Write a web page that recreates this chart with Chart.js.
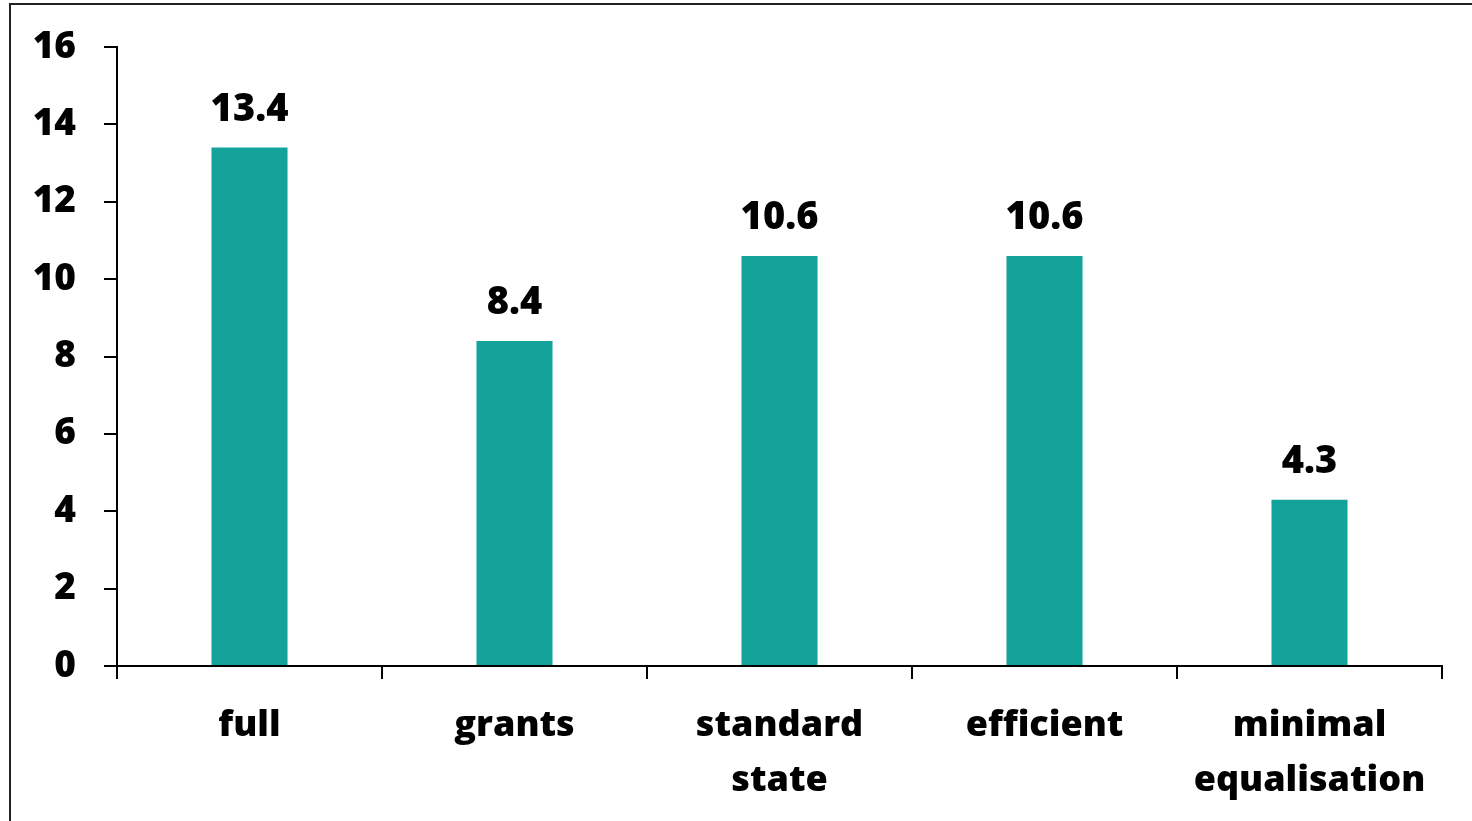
<!DOCTYPE html>
<html>
<head>
<meta charset="utf-8">
<script src="https://cdn.jsdelivr.net/npm/chart.js@4/dist/chart.umd.min.js"></script>
<style>
  html, body { margin: 0; padding: 0; background: #fff; }
  #wrap { width: 1472px; height: 821px; position: relative; }
</style>
</head>
<body>
<div id="wrap"><canvas id="barChart" width="1472" height="821"></canvas></div>
<script>
    const categories = [['full'], ['grants'], ['standard', 'state'], ['efficient'], ['minimal', 'equalisation']];
    const values = [13.4, 8.4, 10.6, 10.6, 4.3];
    const valueLabels = ['13.4', '8.4', '10.6', '10.6', '4.3'];
    const yTicks = [0, 2, 4, 6, 8, 10, 12, 14, 16];

    const fontFamily = '"Open Sans", "DejaVu Sans", sans-serif';

    // outer frame of the original image (only left and top edges are visible)
    const framePlugin = {
        id: 'frame',
        beforeDraw(chart) {
            const ctx = chart.ctx;
            ctx.save();
            ctx.fillStyle = '#fff';
            ctx.fillRect(0, 0, chart.width, chart.height);
            ctx.strokeStyle = '#222';
            ctx.lineWidth = 2;
            ctx.strokeRect(10, 4, chart.width + 20, chart.height + 20);
            ctx.restore();
        }
    };

    const valueLabelPlugin = {
        id: 'valueLabels',
        afterDatasetsDraw(chart) {
            const ctx = chart.ctx;
            const meta = chart.getDatasetMeta(0);
            ctx.save();
            ctx.font = '800 38px ' + fontFamily;
            ctx.fillStyle = '#000';
            ctx.textAlign = 'center';
            ctx.textBaseline = 'alphabetic';
            meta.data.forEach(function (bar, i) {
                ctx.fillText(valueLabels[i], bar.x, bar.y - 27);
            });
            ctx.restore();
        }
    };

    const ctx = document.getElementById('barChart').getContext('2d');
    new Chart(ctx, {
        type: 'bar',
        data: {
            labels: categories,
            datasets: [{
                data: values,
                backgroundColor: '#13a39a',
                borderWidth: 0,
                categoryPercentage: 1,
                barPercentage: 0.287
            }]
        },
        options: {
            responsive: false,
            animation: false,
            layout: { padding: { top: 47, right: 30, left: 0, bottom: 0 } },
            plugins: {
                legend: { display: false },
                tooltip: { enabled: false }
            },
            scales: {
                y: {
                    min: 0,
                    max: 16,
                    afterBuildTicks: function (scale) {
                        scale.ticks = yTicks.map(function (v) { return { value: v }; });
                    },
                    afterFit: function (scale) {
                        scale.width = 117;
                        scale.paddingTop = 0;
                    },
                    border: { display: true, color: '#000', width: 2 },
                    grid: { drawOnChartArea: false, drawTicks: true, tickLength: 13, color: '#000', lineWidth: 2 },
                    ticks: {
                        color: '#000',
                        padding: 28,
                        font: { family: fontFamily, size: 37, weight: '800' }
                    }
                },
                x: {
                    afterFit: function (scale) { scale.height = 155; },
                    border: { display: true, color: '#000', width: 2 },
                    grid: { offset: true, drawOnChartArea: false, drawTicks: true, tickLength: 13, color: '#000', lineWidth: 2 },
                    ticks: {
                        color: '#000',
                        padding: 19,
                        maxRotation: 0,
                        autoSkip: false,
                        font: { family: fontFamily, size: 36, weight: '800', lineHeight: 1.53 }
                    }
                }
            }
        },
        plugins: [framePlugin, valueLabelPlugin]
    });
</script>
</body>
</html>
